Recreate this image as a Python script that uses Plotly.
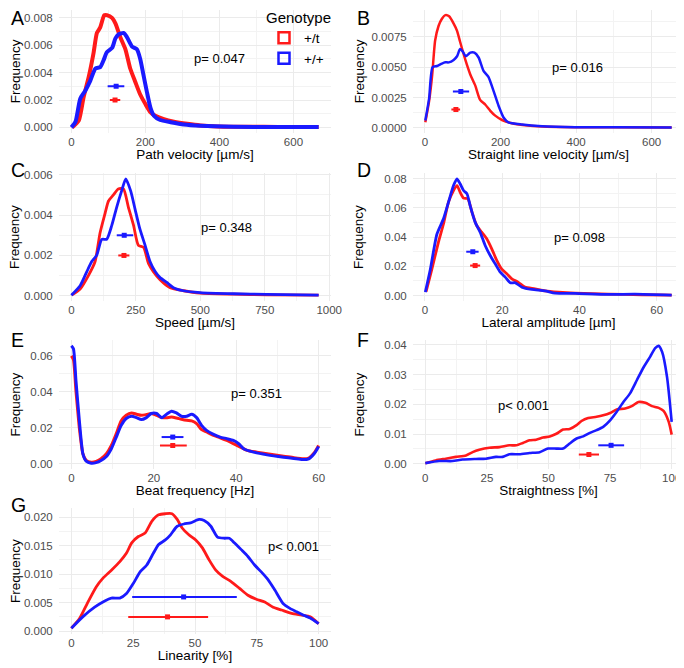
import plotly.graph_objects as go

RED = "#FF1A1A"
BLUE = "#1A1AFF"
FONT = "Liberation Sans, Arial, sans-serif"

# A - path velocity (density per genotype)
path_x_t = [2, 20, 33, 47, 60, 69, 78, 89, 96, 110, 119, 132, 146, 159, 173, 186, 200, 214, 227, 250, 277, 313, 349, 394, 450, 520, 600, 668]
path_y_t = [0.0, 0.0005, 0.0022, 0.0037, 0.00545, 0.0069, 0.0073, 0.0082, 0.0082, 0.0080, 0.0076, 0.0066, 0.0057, 0.0043, 0.0033, 0.0024, 0.0017, 0.0011, 0.00085, 0.0006, 0.00042, 0.00026, 0.00014, 0.00007, 0.00005, 0.00004, 0.00003, 0.00002]
path_x_wt = [0, 11, 24, 38, 51, 65, 78, 87, 96, 110, 119, 128, 141, 150, 164, 177, 186, 195, 204, 214, 223, 240, 268, 304, 349, 439, 550, 668]
path_y_wt = [0.0, 0.0004, 0.0021, 0.0027, 0.0034, 0.0043, 0.0044, 0.0049, 0.0055, 0.0058, 0.0065, 0.0068, 0.0069, 0.0066, 0.0059, 0.0057, 0.0050, 0.0038, 0.0026, 0.0014, 0.00085, 0.00054, 0.00038, 0.00021, 0.00012, 0.00005, 0.00003, 0.00002]
path_bar_t = [104, 118, 132]
path_bar_wt = [98, 121, 143]
path_p = "p= 0.047"

# B - straight line velocity
vsl_x_t = [1, 11, 19, 27, 36, 45, 54, 64, 76, 85, 93, 107, 120, 133, 146, 160, 173, 186, 204, 230, 265, 310, 398, 500, 653]
vsl_y_t = [0.00045, 0.0022, 0.0043, 0.0072, 0.0084, 0.0090, 0.0093, 0.0092, 0.0086, 0.0080, 0.0071, 0.0056, 0.0044, 0.0035, 0.0023, 0.0019, 0.0014, 0.0010, 0.00064, 0.00037, 0.00021, 0.0001, 0.00005, 0.00004, 0.00003]
vsl_x_wt = [1, 11, 20, 32, 45, 54, 63, 76, 85, 93, 100, 108, 120, 131, 142, 155, 168, 182, 195, 208, 221, 257, 310, 398, 500, 653]
vsl_y_wt = [0.0006, 0.0024, 0.0050, 0.0051, 0.0053, 0.0054, 0.0054, 0.0056, 0.0059, 0.0065, 0.0063, 0.0059, 0.0062, 0.0062, 0.0058, 0.0047, 0.0042, 0.0030, 0.0018, 0.00085, 0.00045, 0.00027, 0.00013, 0.00005, 0.00004, 0.00003]
vsl_bar_t = [70, 82, 93]
vsl_bar_wt = [74, 95, 117]
vsl_p = "p= 0.016"

# C - speed
speed_x_t = [1, 34, 66, 92, 111, 131, 144, 163, 182, 202, 221, 241, 260, 280, 299, 318, 344, 383, 435, 499, 629, 758, 959]
speed_y_t = [0.00003, 0.00033, 0.0010, 0.0017, 0.0031, 0.0041, 0.0047, 0.0050, 0.0053, 0.0053, 0.0044, 0.0035, 0.0025, 0.0024, 0.0016, 0.0012, 0.0008, 0.0004, 0.00025, 0.00013, 0.00008, 0.00005, 0.00003]
speed_x_wt = [0, 34, 60, 79, 98, 118, 137, 157, 176, 195, 211, 230, 247, 266, 286, 305, 325, 344, 370, 396, 435, 499, 629, 758, 959]
speed_y_wt = [0.00003, 0.0005, 0.0012, 0.0017, 0.0020, 0.0028, 0.0028, 0.0035, 0.0044, 0.0052, 0.0058, 0.0052, 0.0043, 0.0033, 0.0025, 0.0017, 0.0012, 0.0009, 0.00066, 0.0004, 0.00025, 0.00016, 0.0001, 0.00007, 0.00003]
speed_bar_t = [182, 204, 225]
speed_bar_wt = [176, 205, 240]
speed_p = "p= 0.348"

# D - lateral amplitude
lat_x_t = [0.3, 1.8, 3.5, 4.8, 6.1, 7.4, 8.3, 9.1, 10.0, 11.1, 12.2, 13.4, 14.7, 16.0, 17.3, 18.6, 19.9, 21.2, 22.5, 24.2, 25.9, 28.5, 31.1, 34.6, 38.9, 47.5, 56.1, 63.9]
lat_y_t = [0.0027, 0.018, 0.0366, 0.049, 0.064, 0.072, 0.0754, 0.0709, 0.0668, 0.0663, 0.057, 0.048, 0.0434, 0.0389, 0.032, 0.024, 0.018, 0.0149, 0.0114, 0.009, 0.0057, 0.0046, 0.0032, 0.0023, 0.0016, 0.0009, 0.0005, 0.0002]
lat_x_wt = [0.1, 1.4, 3.1, 4.8, 6.1, 7.4, 8.3, 9.1, 10.0, 10.9, 11.7, 13.0, 14.3, 15.6, 16.9, 18.2, 19.5, 20.8, 22.1, 23.4, 25.1, 27.7, 31.1, 33.7, 38.9, 47.5, 54.4, 63.9]
lat_y_wt = [0.0023, 0.018, 0.042, 0.0526, 0.064, 0.0754, 0.080, 0.0766, 0.072, 0.0697, 0.0617, 0.0503, 0.0434, 0.0343, 0.0274, 0.0217, 0.016, 0.0126, 0.0087, 0.0087, 0.0057, 0.0041, 0.0032, 0.0016, 0.0014, 0.0007, 0.0009, 0.0002]
lat_bar_t = [11.7, 13.0, 14.3]
lat_bar_wt = [10.7, 12.4, 13.9]
lat_p = "p= 0.098"

# E - beat frequency
beat_x_t = [0, 0.5, 1.1, 2.0, 2.8, 3.6, 4.8, 6.0, 7.2, 8.5, 9.7, 10.9, 12.1, 13.3, 14.6, 15.8, 17.0, 18.2, 19.4, 20.7, 21.9, 23.1, 24.3, 25.5, 26.7, 28.0, 29.2, 30.4, 31.6, 32.8, 34.5, 36.1, 37.7, 39.3, 41.0, 42.6, 45.0, 47.5, 51.5, 54.0, 56.4, 57.6, 58.9, 60.0]
beat_y_t = [0.060, 0.058, 0.041, 0.0186, 0.0056, 0.0019, 0.0009, 0.0013, 0.0028, 0.0056, 0.0102, 0.0168, 0.0239, 0.027, 0.0283, 0.0276, 0.027, 0.0274, 0.028, 0.027, 0.0257, 0.0257, 0.026, 0.0255, 0.0248, 0.0242, 0.0239, 0.0224, 0.019, 0.0177, 0.0158, 0.0145, 0.013, 0.0112, 0.0093, 0.0075, 0.0065, 0.0056, 0.0043, 0.0034, 0.0028, 0.0032, 0.006, 0.0102]
beat_x_wt = [0, 0.5, 1.1, 2.0, 2.8, 3.6, 4.8, 6.0, 7.2, 8.5, 9.7, 10.9, 12.1, 13.3, 14.6, 15.8, 17.0, 18.2, 19.4, 20.7, 21.9, 23.1, 24.3, 25.5, 26.7, 28.0, 29.2, 30.4, 31.6, 32.8, 34.5, 36.1, 37.7, 39.3, 40.6, 41.8, 44.2, 47.5, 51.5, 54.0, 56.0, 57.6, 58.9, 60.0]
beat_y_wt = [0.0656, 0.064, 0.0466, 0.0224, 0.0056, 0.0015, 0.0004, 0.0007, 0.0019, 0.0041, 0.0084, 0.0149, 0.0214, 0.0252, 0.0265, 0.0257, 0.0246, 0.0257, 0.028, 0.028, 0.0257, 0.0276, 0.0293, 0.0283, 0.0265, 0.0265, 0.0276, 0.0257, 0.0214, 0.0186, 0.0164, 0.0149, 0.014, 0.013, 0.0112, 0.0084, 0.0065, 0.005, 0.0037, 0.003, 0.0024, 0.0028, 0.0056, 0.0097]
beat_bar_t = [21.5, 24.6, 28.0]
beat_bar_wt = [21.9, 24.6, 27.2]
beat_p = "p= 0.351"

# F - straightness
str_x_t = [0, 4.2, 8.3, 12.4, 16.5, 19.2, 21.9, 26.0, 30.1, 34.1, 36.9, 39.6, 42.3, 45.0, 47.8, 50.5, 53.2, 55.9, 58.6, 61.4, 63.4, 66.1, 69.5, 72.2, 75.0, 77.7, 81.1, 83.8, 86.5, 89.3, 92.0, 94.7, 96.7, 98.8, 100]
str_y_t = [0.0002, 0.0011, 0.0017, 0.0023, 0.0028, 0.0039, 0.0047, 0.0054, 0.0056, 0.0062, 0.0062, 0.007, 0.0079, 0.0081, 0.0088, 0.0092, 0.0101, 0.0115, 0.0117, 0.013, 0.0144, 0.0154, 0.0158, 0.0163, 0.0171, 0.0183, 0.0186, 0.0194, 0.0208, 0.0205, 0.0194, 0.0188, 0.0178, 0.0141, 0.0098]
str_x_wt = [0, 5.6, 11.0, 15.1, 20.5, 24.6, 28.7, 31.4, 34.1, 38.2, 42.3, 46.4, 49.8, 53.2, 55.9, 58.6, 61.4, 64.1, 66.8, 69.5, 72.2, 75.0, 77.7, 80.4, 83.1, 85.9, 88.6, 91.3, 93.3, 94.7, 96.1, 98.1, 100]
str_y_wt = [0.0002, 0.0009, 0.0009, 0.0014, 0.0016, 0.0017, 0.0023, 0.0023, 0.0032, 0.0032, 0.0036, 0.0039, 0.0051, 0.0051, 0.0051, 0.0068, 0.0085, 0.0092, 0.0104, 0.0113, 0.0124, 0.0146, 0.0175, 0.0208, 0.0237, 0.0282, 0.0325, 0.0361, 0.0389, 0.0397, 0.0377, 0.0293, 0.0141]
str_bar_t = [62.3, 66.4, 70.5]
str_bar_wt = [70.2, 75.4, 80.7]
str_p = "p< 0.001"

# G - linearity
lin_x_t = [0, 3.3, 6.7, 10.1, 12.8, 16.2, 19.6, 22.3, 24.4, 27.1, 29.8, 32.6, 35.3, 38.0, 40.7, 42.8, 44.8, 47.5, 50.3, 53.0, 55.7, 58.4, 61.2, 64.6, 68.0, 71.4, 74.8, 78.2, 81.6, 85.0, 89.1, 93.2, 96.6, 100]
lin_y_t = [0.0005, 0.0022, 0.0051, 0.0078, 0.0093, 0.0107, 0.0122, 0.0137, 0.0155, 0.0166, 0.0172, 0.0193, 0.0204, 0.0206, 0.0206, 0.0196, 0.0181, 0.0169, 0.016, 0.0146, 0.0125, 0.0107, 0.0096, 0.0087, 0.0075, 0.0063, 0.0056, 0.0051, 0.0042, 0.0037, 0.0031, 0.0028, 0.0025, 0.0013]
lin_x_wt = [0, 4.6, 9.4, 13.5, 16.2, 19.6, 22.3, 25.1, 27.8, 30.5, 33.2, 35.3, 38.0, 40.1, 42.8, 45.5, 48.2, 51.6, 53.7, 56.4, 59.1, 61.9, 63.9, 65.9, 68.7, 71.4, 74.1, 76.8, 79.6, 82.3, 85.7, 88.4, 91.1, 93.9, 96.6, 100]
lin_y_wt = [0.0005, 0.0025, 0.0042, 0.0053, 0.0058, 0.0058, 0.0066, 0.0084, 0.0104, 0.0116, 0.0137, 0.0152, 0.016, 0.0169, 0.0184, 0.0188, 0.019, 0.0196, 0.0194, 0.0184, 0.0165, 0.0163, 0.0163, 0.0155, 0.0143, 0.0131, 0.0116, 0.0104, 0.009, 0.0072, 0.0048, 0.004, 0.0034, 0.0028, 0.0023, 0.0013]
lin_bar_t = [23.0, 38.9, 55.3]
lin_bar_wt = [24.6, 45.4, 66.9]
lin_p = "p< 0.001"

panels = [
    dict(letter="A", title="Path velocity [µm/s]", t=(path_x_t, path_y_t), wt=(path_x_wt, path_y_wt),
         bar_t=path_bar_t, bar_wt=path_bar_wt, bar_y=(0.002, 0.003), p=path_p, p_at=(400, 0.005),
         dx=200, dy=0.002, fmt=".3f", lw=4, row=0, col=0),
    dict(letter="B", title="Straight line velocity [µm/s]", t=(vsl_x_t, vsl_y_t), wt=(vsl_x_wt, vsl_y_wt),
         bar_t=vsl_bar_t, bar_wt=vsl_bar_wt, bar_y=(0.0015, 0.003), p=vsl_p, p_at=(405, 0.005),
         dx=200, dy=0.0025, fmt=".4f", lw=2.5, row=0, col=1),
    dict(letter="C", title="Speed [µm/s]", t=(speed_x_t, speed_y_t), wt=(speed_x_wt, speed_y_wt),
         bar_t=speed_bar_t, bar_wt=speed_bar_wt, bar_y=(0.002, 0.003), p=speed_p, p_at=(600, 0.0034),
         dx=250, dy=0.002, fmt=".3f", lw=2.8, row=1, col=0),
    dict(letter="D", title="Lateral amplitude [µm]", t=(lat_x_t, lat_y_t), wt=(lat_x_wt, lat_y_wt),
         bar_t=lat_bar_t, bar_wt=lat_bar_wt, bar_y=(0.0205, 0.030), p=lat_p, p_at=(40, 0.040),
         dx=20, dy=0.02, fmt=".2f", lw=2.8, row=1, col=1),
    dict(letter="E", title="Beat frequency [Hz]", t=(beat_x_t, beat_y_t), wt=(beat_x_wt, beat_y_wt),
         bar_t=beat_bar_t, bar_wt=beat_bar_wt, bar_y=(0.0102, 0.0149), p=beat_p, p_at=(45, 0.039),
         dx=20, dy=0.02, fmt=".2f", lw=3, row=2, col=0),
    dict(letter="F", title="Straightness [%]", t=(str_x_t, str_y_t), wt=(str_x_wt, str_y_wt),
         bar_t=str_bar_t, bar_wt=str_bar_wt, bar_y=(0.0031, 0.0062), p=str_p, p_at=(40, 0.0197),
         dx=25, dy=0.01, fmt=".2f", lw=2.6, row=2, col=1),
    dict(letter="G", title="Linearity [%]", t=(lin_x_t, lin_y_t), wt=(lin_x_wt, lin_y_wt),
         bar_t=lin_bar_t, bar_wt=lin_bar_wt, bar_y=(0.0025, 0.006), p=lin_p, p_at=(90, 0.0149),
         dx=25, dy=0.005, fmt=".3f", lw=2.8, row=3, col=0),
]

# the page puts the figure 8 px in from the top-left corner of the window,
# so everything below is in figure pixels = window pixels - 8
W, H = 676, 660
cols_px = [(51, 323), (405, 676)]
rows_px = [(1.5, 125), (165, 293), (332, 461), (500, 626)]
letter_top = [-3, 149, 319, 484]
ytitle_px = [7, 351]
letter_px = [1, 347]


def expand(lo, hi, f=0.05):
    pad = (hi - lo) * f
    return [lo - pad, hi + pad]


fig = go.Figure()
layout = {}
annotations = []

for i, pn in enumerate(panels):
    n = "" if i == 0 else str(i + 1)
    xa, ya = "x" + n, "y" + n
    for (xs, ys), color in ((pn["t"], RED), (pn["wt"], BLUE)):
        fig.add_trace(go.Scatter(x=xs, y=ys, mode="lines", xaxis=xa, yaxis=ya,
                                 line=dict(color=color, width=pn["lw"], shape="spline", smoothing=0.6),
                                 showlegend=False, hoverinfo="skip"))
    for bar, yv, color in ((pn["bar_t"], pn["bar_y"][0], RED), (pn["bar_wt"], pn["bar_y"][1], BLUE)):
        lo, mid, hi = bar
        fig.add_trace(go.Scatter(x=[mid], y=[yv], mode="markers", xaxis=xa, yaxis=ya,
                                 marker=dict(symbol="square", size=5, color=color),
                                 error_x=dict(type="data", symmetric=False, array=[hi - mid],
                                              arrayminus=[mid - lo], color=color, thickness=2, width=0),
                                 showlegend=False, hoverinfo="skip"))

    allx = pn["t"][0] + pn["wt"][0]
    ally = pn["t"][1] + pn["wt"][1] + list(pn["bar_y"])
    c0, c1 = cols_px[pn["col"]]
    r0, r1 = rows_px[pn["row"]]
    ydom = [1 - r1 / H, 1 - r0 / H]
    grid = dict(showgrid=True, gridcolor="#EBEBEB", gridwidth=1, zeroline=False, showline=False,
                automargin=False, tickfont=dict(family=FONT, size=11.5, color="#4D4D4D"))
    layout["xaxis" + n] = dict(
        grid, domain=[c0 / W, c1 / W], anchor=ya, range=expand(min(allx), max(allx)),
        tick0=0, dtick=pn["dx"], ticks="",
        minor=dict(dtick=pn["dx"] / 2, showgrid=True, gridcolor="#F3F3F3", gridwidth=1),
        title=dict(text=pn["title"], font=dict(family=FONT, size=13.5, color="black"), standoff=3))
    layout["yaxis" + n] = dict(
        grid, domain=ydom, anchor=xa, range=expand(min(ally), max(ally)),
        tick0=0, dtick=pn["dy"], tickformat=pn["fmt"],
        ticks="outside", ticklen=3, tickcolor="rgba(0,0,0,0)",
        minor=dict(dtick=pn["dy"] / 2, showgrid=True, gridcolor="#F3F3F3", gridwidth=1))

    annotations.append(dict(text="Frequency", textangle=-90, x=ytitle_px[pn["col"]] / W,
                            y=(ydom[0] + ydom[1]) / 2, xref="paper", yref="paper",
                            xanchor="center", yanchor="middle", showarrow=False,
                            font=dict(family=FONT, size=13.5, color="black")))
    annotations.append(dict(text=pn["p"], x=pn["p_at"][0], y=pn["p_at"][1], xref=xa, yref=ya,
                            showarrow=False, font=dict(family=FONT, size=13, color="black")))
    annotations.append(dict(text=pn["letter"], x=letter_px[pn["col"]] / W,
                            y=1 - letter_top[pn["row"]] / H, xref="paper", yref="paper",
                            xanchor="left", yanchor="top", showarrow=False,
                            font=dict(family=FONT, size=19.5, color="black")))

# legend entries
for name, color in (("+/t", RED), ("+/+", BLUE)):
    fig.add_trace(go.Scatter(x=[None], y=[None], mode="markers", name=name,
                             marker=dict(symbol="square-open", size=11, color=color,
                                         line=dict(width=2.5, color=color))))

fig.update_layout(
    width=W, height=H,
    margin=dict(l=0, r=0, t=0, b=0, autoexpand=False),
    paper_bgcolor="white", plot_bgcolor="white",
    font=dict(family=FONT),
    annotations=annotations,
    legend=dict(title=dict(text="Genotype", font=dict(family=FONT, size=15, color="black")),
                font=dict(family=FONT, size=13.5, color="black"),
                x=256 / W, y=1 + 5 / H, xanchor="left", yanchor="top",
                bgcolor="rgba(0,0,0,0)", itemwidth=30, tracegroupgap=0),
    **layout,
)

fig.write_html("out.html")
